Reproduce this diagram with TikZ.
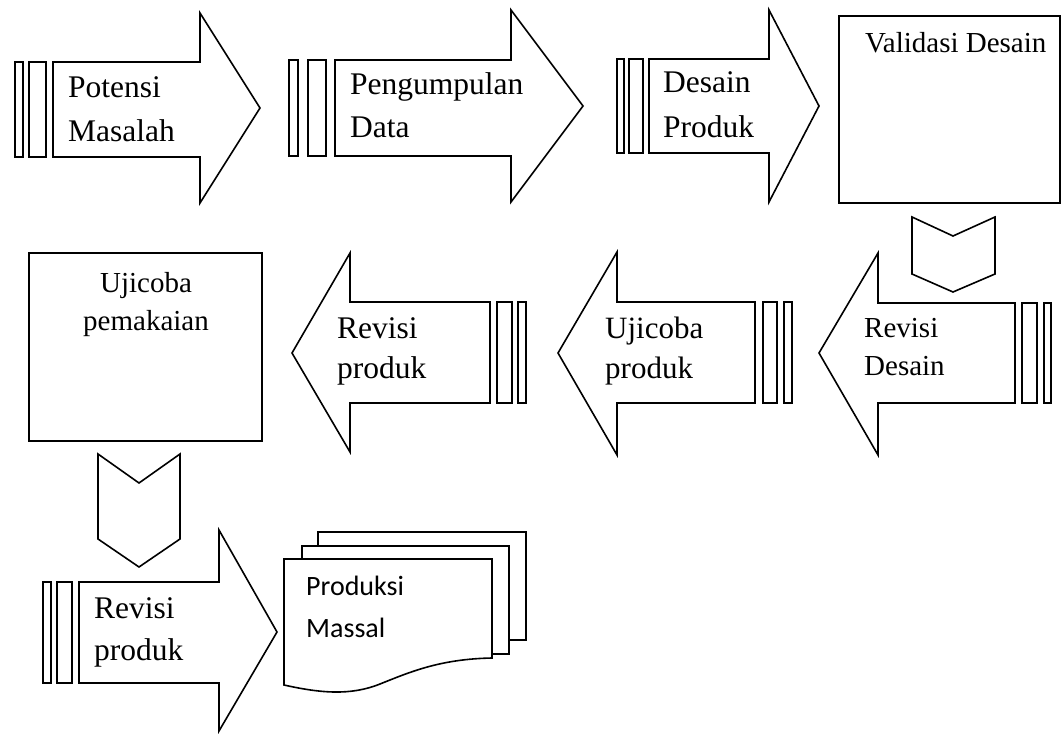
\documentclass[tikz,border=0pt]{standalone}
\usepackage{fontspec}
\setmainfont{Liberation Serif}
\newfontfamily\calib{Carlito}
\newcommand{\lines}[2]{\begin{tabular}[t]{@{}#1@{}}#2\end{tabular}}
\begin{document}
\begin{tikzpicture}[x=1pt,y=-1pt,
  shp/.style={draw=black,fill=white,line width=1.6pt,line join=miter},
  lbl/.style={anchor=base west,inner sep=0pt},
  lblc/.style={anchor=base,inner sep=0pt}]
\useasboundingbox (0,0) rectangle (1062,733);
\fill[white] (0,0) rectangle (1062,733);
% Arrow 1
\draw[shp] (15,62) rectangle (23,157);
\draw[shp] (29,62) rectangle (46,157);
\draw[shp] (53,62) -- (200,62) -- (200,13) -- (260,108) -- (200,203) -- (200,157) -- (53,157) -- cycle;
\node[lbl,font=\fontsize{31.5}{44}\selectfont] (p1) at (68,98) {\lines{l}{Potensi\\Masalah}};
% Arrow 2
\draw[shp] (289,60) rectangle (298,156);
\draw[shp] (308,60) rectangle (326,156);
\draw[shp] (335,60) -- (511,60) -- (511,10) -- (583,106) -- (511,202) -- (511,156) -- (335,156) -- cycle;
\node[lbl,font=\fontsize{31.5}{43}\selectfont] (p2) at (350,95) {\lines{l}{Pengumpulan\\Data}};
% Arrow 3
\draw[shp] (617,59) rectangle (624,153);
\draw[shp] (629,59) rectangle (643,153);
\draw[shp] (649,59) -- (769,59) -- (769,10) -- (819,106) -- (769,202) -- (769,153) -- (649,153) -- cycle;
\node[lbl,font=\fontsize{31.5}{44}\selectfont] (p3) at (663,93) {\lines{l}{Desain\\Produk}};
% Validasi box
\draw[shp] (839,16) rectangle (1060,203);
\node[lbl,font=\fontsize{29}{38}\selectfont] (val) at (865,53) {Validasi Desain};
% Chevron 1
\draw[shp] (912,217) -- (953,236) -- (995,217) -- (995,274) -- (953,292) -- (912,274) -- cycle;
% Revisi Desain arrow
\draw[shp] (1022,303) rectangle (1037,403);
\draw[shp] (1044,303) rectangle (1051,403);
\draw[shp] (1015,303) -- (878,303) -- (878,253) -- (819,353) -- (878,455) -- (878,403) -- (1015,403) -- cycle;
\node[lbl,font=\fontsize{29}{38}\selectfont] (rd) at (864,337) {\lines{l}{Revisi\\Desain}};
% Ujicoba produk arrow
\draw[shp] (763,302) rectangle (777,403);
\draw[shp] (784,302) rectangle (792,403);
\draw[shp] (755,302) -- (617,302) -- (617,252) -- (558,353) -- (617,455) -- (617,403) -- (755,403) -- cycle;
\node[lbl,font=\fontsize{31}{40}\selectfont] (up) at (605,338) {\lines{l}{Ujicoba\\produk}};
% Revisi produk arrow (middle)
\draw[shp] (497,302) rectangle (512,403);
\draw[shp] (518,302) rectangle (526,403);
\draw[shp] (490,302) -- (350,302) -- (350,253) -- (292,353) -- (350,452) -- (350,403) -- (490,403) -- cycle;
\node[lbl,font=\fontsize{31.5}{40}\selectfont] (rp) at (337,338) {\lines{l}{Revisi\\produk}};
% Ujicoba pemakaian box
\draw[shp] (29,253) rectangle (262,441);
\node[lblc,font=\fontsize{29}{38}\selectfont] (upk) at (146,292) {\lines{c}{Ujicoba\\pemakaian}};
% Chevron 2
\draw[shp] (98,454) -- (139,483) -- (180,454) -- (180,539) -- (139,567) -- (98,539) -- cycle;
% Revisi produk arrow (bottom)
\draw[shp] (43,582) rectangle (51,683);
\draw[shp] (57,582) rectangle (72,683);
\draw[shp] (79,582) -- (219,582) -- (219,530) -- (277,632) -- (219,731) -- (219,683) -- (79,683) -- cycle;
\node[lbl,font=\fontsize{31.5}{42}\selectfont] (rp2) at (94,618) {\lines{l}{Revisi\\produk}};
% Documents
\draw[shp] (318,532) rectangle (526,640);
\draw[shp] (302,546) rectangle (509,654);
\draw[shp] (284,559) -- (492,559) -- (492,658)
  .. controls (440,659) and (410,672) .. (380,684)
  .. controls (350,696) and (320,693) .. (284,685) -- cycle;
\node[lbl,font=\calib\fontsize{28}{42}\selectfont] (pm) at (306,595) {\lines{l}{Produksi\\Massal}};
\end{tikzpicture}
\end{document}
